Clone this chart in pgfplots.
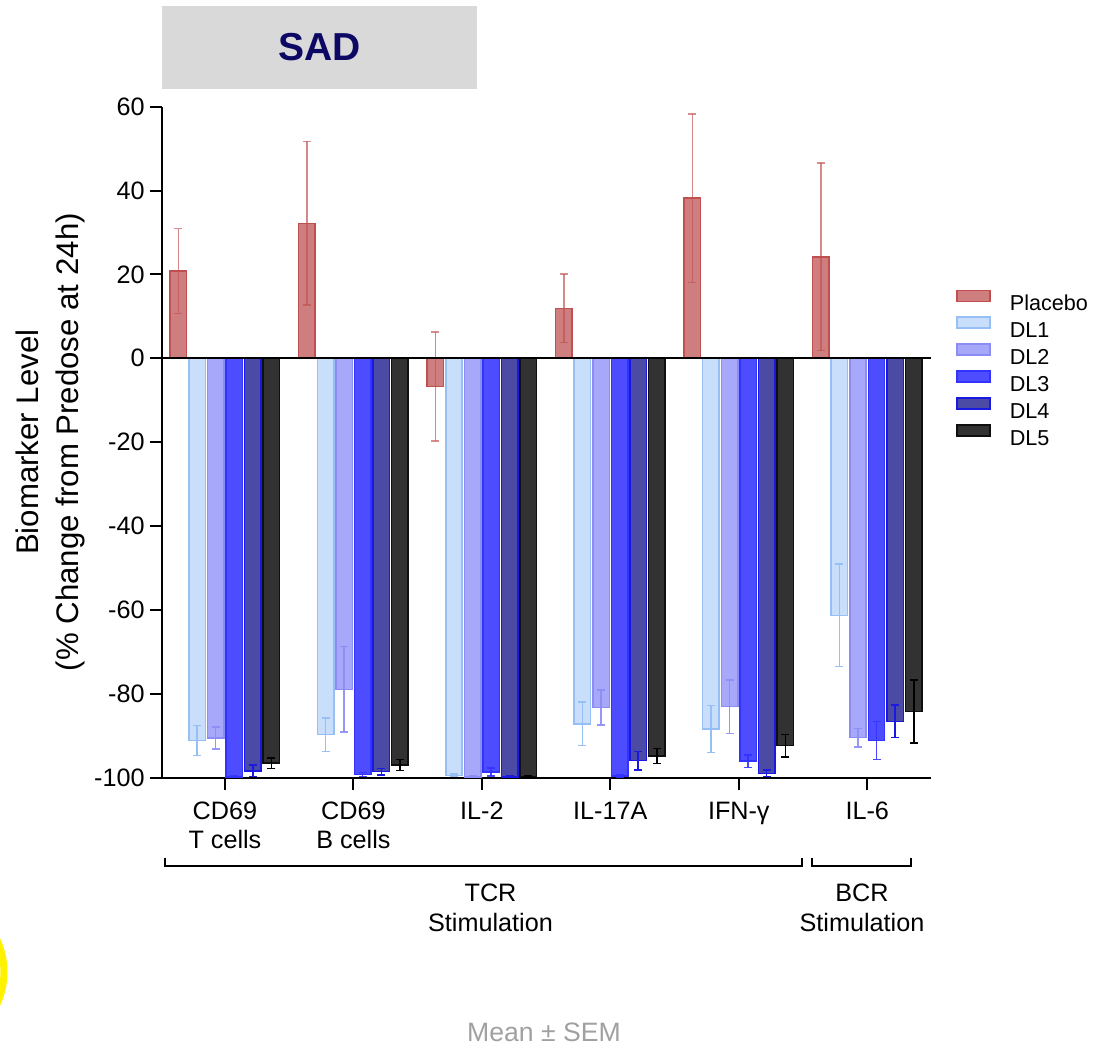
\documentclass[border=0pt]{standalone}
\usepackage{pgfplots}
\pgfplotsset{compat=1.18}
\usepackage{pgfplotstable}
\usepackage{fontspec}
\setmainfont{Liberation Sans}

\definecolor{plfill}{RGB}{206,126,126}
\definecolor{pledge}{RGB}{192,80,80}
\definecolor{donefill}{RGB}{201,222,250}
\definecolor{doneedge}{RGB}{150,192,245}
\definecolor{dtwofill}{RGB}{168,168,250}
\definecolor{dtwoedge}{RGB}{140,140,245}
\definecolor{dthreefill}{RGB}{77,77,255}
\definecolor{dthreeedge}{RGB}{51,51,255}
\definecolor{dfourfill}{RGB}{75,75,165}
\definecolor{dfouredge}{RGB}{25,25,225}
\definecolor{dfivefill}{RGB}{50,50,50}
\definecolor{dfiveedge}{RGB}{15,15,15}
\definecolor{boxgray}{RGB}{217,217,217}
\definecolor{sadnavy}{RGB}{12,8,100}
\definecolor{notegray}{RGB}{160,160,160}

% mean and SEM, % change from predose at 24h
\pgfplotstableread{
x  pl   ple   d1    d1e  d2    d2e  d3    d3e  d4    d4e  d5    d5e
0  20.8 10.1 -91.2  3.6 -90.6  2.6 -99.9  0.3 -98.4  1.4 -96.6  1.2
1  32.2 19.5 -89.8  4.0 -79.0 10.2 -99.3  0.5 -98.6  0.8 -97.0  1.3
2  -6.7 13.0 -99.5  0.3 -99.9  0.2 -98.7  1.0 -99.9  0.2 -99.8  0.2
3  11.9  8.2 -87.2  5.2 -83.3  4.2 -99.7  0.4 -96.0  2.2 -94.9  1.8
4  38.2 20.1 -88.4  5.6 -83.1  6.4 -96.1  1.5 -99.0  0.8 -92.4  2.7
5  24.2 22.4 -61.3 12.2 -90.5  2.2 -91.2  4.5 -86.6  3.9 -84.3  7.5
}\datatable

\pgfplotsset{
  serie/.style n args={4}{
    fill=#1, draw=#2, line width=0.75pt, bar shift=0pt,
    /pgfplots/error bars/y dir=both,
    /pgfplots/error bars/y explicit,
    /pgfplots/error bars/error bar style={draw=#3, draw opacity=#4, line width=0.75pt},
    /pgfplots/error bars/error mark options={rotate=90, draw=#3, draw opacity=#4, line width=0.75pt, mark size=2pt},
  },
  boxlegend/.style={legend image code/.code={\draw[##1] (0pt,0.9pt) rectangle (16.5pt,6.4pt);}},
}

\begin{document}
\begin{tikzpicture}
\useasboundingbox (-81pt,-133.75pt) rectangle (466pt,388.75pt);

\begin{axis}[
  at={(0,0)}, anchor=south west,
  scale only axis, width=384.75pt, height=335.4pt,
  ybar, bar width=0.128,
  xmin=-0.49, xmax=5.5, ymin=-100, ymax=60,
  enlargelimits=false,
  axis x line*=bottom, axis y line*=left,
  axis line style={line width=1pt, black},
  xtick={0,...,5},
  xticklabels={{CD69\\T cells},{CD69\\B cells},IL-2,IL-17A,IFN-γ,IL-6},
  ytick={-100,-80,...,60},
  tick align=outside, major tick length=6pt,
  tick style={line width=1pt, black},
  /pgf/number format/assume math mode=true,
  tick label style={font=\fontsize{12.6}{14.5}\selectfont},
  xticklabel style={align=center, anchor=north, inner sep=0pt, yshift=-6pt},
  yticklabel style={inner sep=0pt, xshift=-2.5pt},
  ylabel={Biomarker Level\\(\% Change from Predose at 24h)},
  ylabel style={font=\fontsize{15.6}{20}\selectfont, align=center,
    at={(axis description cs:-0.1455,0.5)}, anchor=center},
  boxlegend,
  legend cell align=left,
  legend style={at={(axis description cs:1.0318,0.728)}, anchor=north west,
    draw=none, fill=none, inner sep=0pt, column sep=9.5pt, row sep=0pt,
    font=\fontsize{10.8}{12}\selectfont,
    nodes={inner sep=0pt, minimum height=13.35pt, text height=7.7pt, text depth=0pt}},
]
\addplot[serie={plfill}{pledge}{pledge}{0.65}]
  table[x expr=\thisrow{x}-0.362, y=pl, y error=ple] {\datatable};
\addplot[serie={donefill}{doneedge}{doneedge}{1}]
  table[x expr=\thisrow{x}-0.217, y=d1, y error=d1e] {\datatable};
\addplot[serie={dtwofill}{dtwoedge}{dtwoedge}{0.9}]
  table[x expr=\thisrow{x}-0.072, y=d2, y error=d2e] {\datatable};
\addplot[serie={dthreefill}{dthreeedge}{dthreeedge}{0.9}]
  table[x expr=\thisrow{x}+0.072, y=d3, y error=d3e] {\datatable};
\addplot[serie={dfourfill}{dfouredge}{dfouredge}{1}]
  table[x expr=\thisrow{x}+0.217, y=d4, y error=d4e] {\datatable};
\addplot[serie={dfivefill}{dfiveedge}{black}{1}]
  table[x expr=\thisrow{x}+0.362, y=d5, y error=d5e] {\datatable};
\legend{Placebo,DL1,DL2,DL3,DL4,DL5}
\draw[line width=1pt, black] (axis cs:-0.49,0) -- (axis cs:5.5,0);
\end{axis}

% annotations, in pixel units of the reference
\begin{scope}[x=0.5pt, y=-0.5pt, shift={(-81pt,388.75pt)}]
  \fill[boxgray] (162,6) rectangle (477,89);
  \node[font=\fontsize{19.5}{20}\selectfont\bfseries, text=sadnavy] at (319.5,47.5) {SAD};
  \draw[line width=1pt] (165,858) -- (165,865.7) -- (802,865.7) -- (802,858);
  \draw[line width=1pt] (811.7,858) -- (811.7,865.7) -- (910.7,865.7) -- (910.7,858);
  \begin{scope}[every node/.style={font=\fontsize{12.6}{14.5}\selectfont, anchor=base, inner sep=0pt}]
    \node at (490.5,901.7) {TCR};
    \node at (490.5,932) {Stimulation};
    \node at (862,901.7) {BCR};
    \node at (862,932) {Stimulation};
  \end{scope}
  \node[font=\fontsize{13.3}{14}\selectfont, text=notegray, anchor=base, inner sep=0pt] at (544,1041.7) {Mean ± SEM};
  \draw[yellow, line width=3.5] (-72,972) circle [radius=76];
\end{scope}
\end{tikzpicture}
\end{document}
